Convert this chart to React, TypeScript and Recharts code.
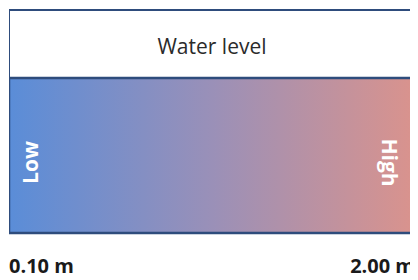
import React from "react";
import { BarChart, Bar, XAxis, YAxis } from "recharts";

const categories = ["Water level"];
const rangeMin = [0.1];
const rangeMax = [2.0];
const tickValues = [0.1, 2.0];
const unit = "m";
const endLabels = ["Low", "High"];

const data = categories.map((name, i) => ({ name, range: [rangeMin[i], rangeMax[i]] }));

const BORDER = "#2E4C7C";
const HEADER_H = 68;
const FONT = "'Open Sans', sans-serif";

const BarShape = (props: any) => {
  const { x, y, width, height, payload } = props;
  const cy = y + height / 2 + 7;
  return (
    <g>
      <rect x={x} y={y - HEADER_H} width={width} height={HEADER_H} fill="#ffffff" stroke={BORDER} strokeWidth={2} />
      <text
        x={x + width / 2}
        y={y - HEADER_H / 2 + 2}
        textAnchor="middle"
        dominantBaseline="central"
        fontFamily={FONT}
        fontSize={21}
        fill="#2b2b2b"
      >
        {payload.name}
      </text>
      <rect x={x} y={y} width={width} height={height} fill="url(#wlGrad)" stroke={BORDER} strokeWidth={2.5} />
      <text
        transform={`translate(${x + 21},${cy}) rotate(-90)`}
        textAnchor="middle"
        dominantBaseline="central"
        fontFamily={FONT}
        fontWeight="bold"
        fontSize={21}
        fill="#ffffff"
      >
        {endLabels[0]}
      </text>
      <text
        transform={`translate(${x + width - 25},${cy}) rotate(90)`}
        textAnchor="middle"
        dominantBaseline="central"
        fontFamily={FONT}
        fontWeight="bold"
        fontSize={21}
        fill="#ffffff"
      >
        {endLabels[1]}
      </text>
    </g>
  );
};

const Tick = (props: any) => {
  const { x, y, payload, index } = props;
  const anchor = index === 0 ? "start" : "end";
  return (
    <text
      x={x}
      y={y}
      dy={24}
      textAnchor={anchor}
      dominantBaseline="central"
      fontFamily={FONT}
      fontWeight="bold"
      fontSize={20}
      fill="#1a1a1a"
    >
      {`${payload.value.toFixed(2)} ${unit}`}
    </text>
  );
};

export default function App() {
  return (
    <div style={{ width: 410, height: 272 }}>
      <BarChart
        width={410}
        height={272}
        data={data}
        layout="vertical"
        barCategoryGap={0}
        margin={{ top: 70, right: 3, bottom: 7, left: 1 }}
      >
        <defs>
          <linearGradient id="wlGrad" x1="0" y1="0" x2="1" y2="0">
            <stop offset="0%" stopColor="#5A8DD8" />
            <stop offset="50%" stopColor="#9A90B8" />
            <stop offset="100%" stopColor="#DA938D" />
          </linearGradient>
        </defs>
        <XAxis
          type="number"
          domain={[tickValues[0], tickValues[tickValues.length - 1]]}
          ticks={tickValues}
          axisLine={false}
          tickLine={false}
          height={40}
          tick={<Tick />}
          interval={0}
          allowDataOverflow
        />
        <YAxis type="category" dataKey="name" hide />
        <Bar dataKey="range" shape={<BarShape />} isAnimationActive={false} />
      </BarChart>
    </div>
  );
}
